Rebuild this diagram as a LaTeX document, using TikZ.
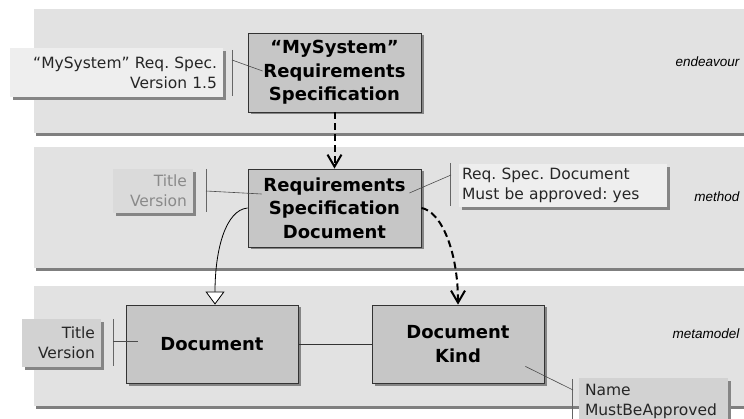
\documentclass[tikz,border=0pt]{standalone}
\usepackage{fontspec}
\setmainfont{DejaVu Sans}
\newfontfamily\levelfont{Liberation Sans}
\usetikzlibrary{arrows.meta,shadows}
\frenchspacing

\begin{document}
\begin{tikzpicture}[
    x=1pt, y=-1pt,
    level/.style={fill=bandgray,
        drop shadow={shadow xshift=2pt, shadow yshift=-3pt, opacity=1, fill=bandshade}},
    ebox/.style={
        draw=black!80, line width=0.8pt, fill=boxgray, align=center,
        minimum width=173pt, minimum height=79pt, inner sep=2pt,
        font=\fontsize{18}{23.5}\selectfont\bfseries,
        drop shadow={shadow xshift=2.5pt, shadow yshift=-2.5pt, opacity=1, fill=boxshade}
    },
    note/.style={
        inner sep=0pt, text=black!85, font=\fontsize{15.5}{20}\selectfont,
        drop shadow={shadow xshift=3pt, shadow yshift=-3pt, opacity=1, fill=boxshade}
    },
    bar/.style={draw=black!60, line width=0.7pt},
    tie/.style={draw=black!70, line width=0.6pt},
    dep/.style={draw=black, line width=2pt, dash pattern=on 7pt off 4pt,
        -{Straight Barb[length=12pt,width=14pt]}},
    gen/.style={draw=black, line width=0.8pt,
        -{Triangle[fill=white,length=13pt,width=19pt]}},
    assoc/.style={draw=black!80, line width=0.8pt},
    lvl/.style={anchor=east, font=\levelfont\itshape\fontsize{13.5}{15}\selectfont}
]

% Grey shades of bands, elements and notes
\definecolor{bandgray}{HTML}{E2E2E2}
\definecolor{bandshade}{HTML}{7F7F7F}
\definecolor{boxgray}{HTML}{C6C6C6}
\definecolor{boxshade}{HTML}{858585}
\definecolor{notelight}{HTML}{EEEEEE}
\definecolor{notemid}{HTML}{D2D2D2}
\definecolor{notefaint}{HTML}{DADADA}
\definecolor{fainttext}{HTML}{8A8A8A}

\useasboundingbox (0,0) rectangle (744,419);
\clip (0,0) rectangle (744,419);

% Three layers
\path[level] (34,9) rectangle (760,133);
\path[level] (34,147) rectangle (760,268);
\path[level] (34,286) rectangle (760,406);

\node[lvl] (lvend) at (743,62) {endeavour};
\node[lvl] (lvmeth) at (743,197) {method};
\node[lvl] (lvmeta) at (743,334) {metamodel};

% Elements
\node[ebox] (spec) at (334.5,72.5) {“MySystem”\\Requirements\\Specification};
\node[ebox, minimum height=78pt] (specdoc) at (334.5,208) {Requirements\\Specification\\Document};
\node[ebox, minimum width=172pt, minimum height=78pt] (doc) at (212,344) {Document};
\node[ebox, minimum width=172pt, minimum height=78pt] (kind) at (458,344) {Document\\Kind};

% Attribute notes
\node[note, fill=notelight, minimum width=213pt, minimum height=49pt, text width=201pt, align=right]
    (specnote) at (116.5,72.5) {“MySystem” Req. Spec.\\Version 1.5};
\node[note, fill=notefaint, text=fainttext, minimum width=80pt, minimum height=44pt, text width=68pt, align=right]
    (specdocnote) at (153,191) {Title\\Version};
\node[note, fill=notelight, minimum width=208pt, minimum height=43pt, text width=202pt, align=left]
    (kindval) at (563,185.5) {Req. Spec. Document\\Must be approved: yes};
\node[note, fill=notemid, minimum width=79pt, minimum height=48pt, text width=67pt, align=right]
    (docnote) at (61.5,343) {Title\\Version};
\node[note, fill=notemid, minimum width=149pt, minimum height=46pt, text width=137pt, align=left]
    (kindnote) at (653.5,401) {Name\\MustBeApproved};

% Note bars
\draw[bar] ([xshift=9pt,yshift=-2pt]specnote.north east) -- ([xshift=9pt,yshift=1pt]specnote.south east);
\draw[bar] ([xshift=13pt]specdocnote.north east) -- ([xshift=13pt,yshift=1pt]specdocnote.south east);
\draw[bar] ([xshift=-8pt,yshift=1pt]kindval.north west) -- ([xshift=-8pt,yshift=1pt]kindval.south west);
\draw[bar] ([xshift=12pt]docnote.north east) -- ([xshift=12pt,yshift=1pt]docnote.south east);
\draw[bar] ([xshift=-6pt,yshift=-1pt]kindnote.north west) -- ([xshift=-6pt]kindnote.south west);

% Ties from the bars into the elements
\coordinate (t1) at (232,60);
\coordinate (t2) at (206,191);
\coordinate (t3) at (451,175);
\coordinate (t4) at (113,341);
\coordinate (t5) at (573,390);
\draw[tie] (t1) -- ([xshift=15pt,yshift=1.5pt]spec.west);
\draw[tie] (t2) -- ([xshift=14pt,yshift=14pt]specdoc.west);
\draw[tie] (t3) -- ([xshift=-12pt,yshift=15pt]specdoc.east);
\draw[tie] (t4) -- ([xshift=12pt,yshift=3pt]doc.west);
\draw[tie] (t5) -- ([xshift=-19pt,yshift=17pt]kind.south east);

% Instantiation and generalisation
\draw[dep] (spec.south) -- (specdoc.north);
\draw[dep] (specdoc.east) .. controls +(19,3) and +(0,-55) .. (kind.north);
\draw[gen] (specdoc.west) .. controls +(-22,2) and +(0,-55) .. ([xshift=3pt]doc.north);
\draw[assoc] (doc.east) -- (kind.west);

\end{tikzpicture}
\end{document}
